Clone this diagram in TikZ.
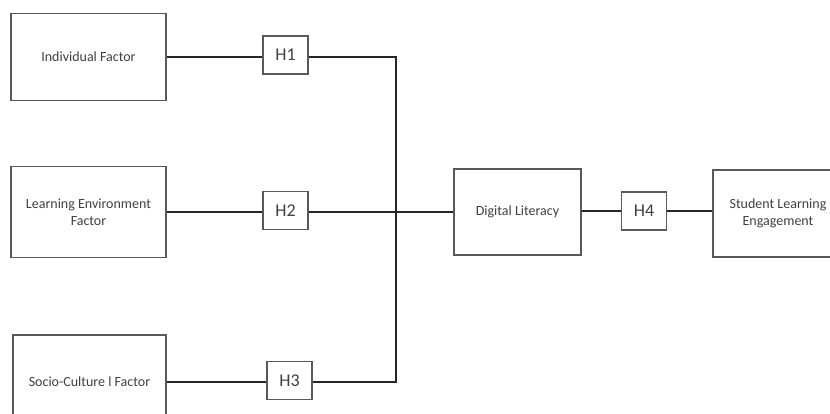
\documentclass[tikz,border=0pt]{standalone}
\usepackage{fontspec}
\setmainfont{Carlito}
\begin{document}
\begin{tikzpicture}[x=1pt,y=-1pt,
  factorbox/.style={draw=black!65, line width=1.1pt, fill=white, align=center, inner sep=0pt,
    font=\fontsize{14}{17.5}\selectfont, text=black!75},
  hbox/.style={draw=black!65, line width=1.1pt, fill=white, inner sep=0pt,
    minimum width=45pt, minimum height=38pt, font=\fontsize{18}{20}\selectfont, text=black!75},
  conn/.style={draw=black!85, line width=2pt}]
\useasboundingbox (0,0) rectangle (830,414);
\clip (0,0) rectangle (830,414);
% connectors first
\coordinate (bus) at (396,212);
\node[factorbox, minimum width=155pt, minimum height=87pt] (ind) at (88.5,57) {Individual Factor};
\node[factorbox, minimum width=155pt, minimum height=91pt] (le) at (88.5,212) {Learning Environment\\Factor};
\node[factorbox, minimum width=153pt, minimum height=94pt] (soc) at (89.5,382) {Socio-Culture l Factor};
\node[hbox] (h1) at (285.5,55) {H1};
\node[hbox] (h2) at (285.5,210.5) {H2};
\node[hbox] (h3) at (289.5,380.5) {H3};
\node[factorbox, minimum width=127pt, minimum height=86pt] (dl) at (517.5,212) {Digital Literacy};
\node[hbox] (h4) at (644,211) {H4};
\node[factorbox, minimum width=130pt, minimum height=87pt] (sle) at (778,213.5) {Student Learning\\Engagement};
% connectors
\draw[conn] (ind.east) -- (ind.east -| h1.west);
\draw[conn] (h1.east |- ind.east) -| (bus);
\draw[conn] (le.east) -- (le.east -| h2.west);
\draw[conn] (h2.east |- le.east) -- (dl.west |- le.east);
\draw[conn] (soc.east) -- (soc.east -| h3.west);
\draw[conn] (h3.east |- soc.east) -| (bus);
\draw[conn] (dl.east |- h4.west) -- (h4.west);
\draw[conn] (h4.east) -- (h4.east -| sle.west);
\end{tikzpicture}
\end{document}
